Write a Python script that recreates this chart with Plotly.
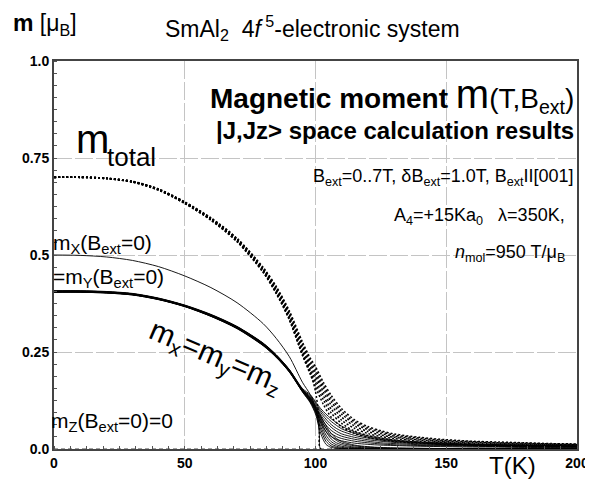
import plotly.graph_objects as go

# ---------------- data ----------------
T_dot = [0, 10, 20, 30, 40, 50, 60, 70, 80, 85, 90, 95, 98, 100, 103, 106, 110, 115,
         120, 125, 130, 140, 150, 160, 170, 180, 190, 200]
m_total_B = [
    [0.700, 0.700, 0.697, 0.688, 0.667, 0.633, 0.590, 0.535, 0.456, 0.402, 0.333, 0.242, 0.192, 0.160, 0.115, 0.082, 0.057, 0.040, 0.030, 0.024, 0.020, 0.015, 0.012, 0.010, 0.008, 0.007, 0.006, 0.006],
    [0.700, 0.700, 0.697, 0.688, 0.668, 0.634, 0.591, 0.536, 0.458, 0.404, 0.336, 0.247, 0.199, 0.170, 0.127, 0.093, 0.066, 0.046, 0.035, 0.028, 0.023, 0.017, 0.014, 0.011, 0.010, 0.009, 0.008, 0.007],
    [0.700, 0.700, 0.697, 0.689, 0.668, 0.634, 0.592, 0.538, 0.460, 0.407, 0.340, 0.252, 0.206, 0.179, 0.137, 0.103, 0.074, 0.053, 0.040, 0.032, 0.027, 0.020, 0.016, 0.013, 0.011, 0.010, 0.009, 0.008],
    [0.701, 0.701, 0.698, 0.689, 0.669, 0.635, 0.593, 0.539, 0.462, 0.410, 0.344, 0.258, 0.213, 0.188, 0.147, 0.113, 0.082, 0.059, 0.045, 0.036, 0.030, 0.023, 0.018, 0.015, 0.013, 0.012, 0.011, 0.010],
    [0.701, 0.701, 0.698, 0.689, 0.669, 0.636, 0.594, 0.540, 0.464, 0.413, 0.348, 0.264, 0.220, 0.196, 0.156, 0.122, 0.090, 0.065, 0.050, 0.040, 0.033, 0.025, 0.020, 0.017, 0.015, 0.013, 0.012, 0.011],
    [0.701, 0.701, 0.698, 0.690, 0.670, 0.636, 0.595, 0.542, 0.466, 0.416, 0.352, 0.270, 0.227, 0.204, 0.164, 0.130, 0.097, 0.070, 0.054, 0.044, 0.036, 0.028, 0.022, 0.019, 0.016, 0.015, 0.013, 0.012],
    [0.701, 0.701, 0.698, 0.690, 0.670, 0.637, 0.596, 0.543, 0.468, 0.419, 0.356, 0.276, 0.234, 0.212, 0.172, 0.138, 0.104, 0.075, 0.058, 0.047, 0.039, 0.030, 0.024, 0.020, 0.018, 0.016, 0.014, 0.013],
]

T_b0 = [0, 10, 20, 30, 40, 50, 60, 70, 80, 85, 90, 95, 98, 100, 101, 101.5, 102, 110, 150, 200]
m_total_b0 = [0.700, 0.700, 0.697, 0.688, 0.667, 0.633, 0.590, 0.534, 0.455, 0.400, 0.333, 0.242, 0.198, 0.148, 0.099, 0.050, 0.0, 0.0, 0.0, 0.0]
mx_b0 = [0.500, 0.499, 0.495, 0.486, 0.470, 0.446, 0.416, 0.377, 0.323, 0.285, 0.238, 0.172, 0.140, 0.105, 0.070, 0.035, 0.0, 0.0, 0.0, 0.0]
T_mz_b0 = [0, 200]
mz_b0 = [0.0, 0.0]

T_sol = [0, 10, 20, 30, 40, 50, 60, 70, 80, 85, 90, 95, 98, 100, 102, 104, 106, 108, 110,
         115, 120, 125, 130, 140, 150, 160, 170, 180, 190, 200]
mz_B = [
    [0.405, 0.405, 0.403, 0.398, 0.386, 0.368, 0.343, 0.311, 0.267, 0.237, 0.199, 0.149, 0.122, 0.098, 0.068, 0.045, 0.032, 0.025, 0.021, 0.015, 0.012, 0.010, 0.009, 0.007, 0.006, 0.005, 0.005, 0.004, 0.004, 0.004],
    [0.405, 0.405, 0.403, 0.398, 0.386, 0.368, 0.343, 0.312, 0.268, 0.238, 0.200, 0.150, 0.125, 0.103, 0.075, 0.054, 0.040, 0.032, 0.027, 0.020, 0.016, 0.013, 0.011, 0.009, 0.008, 0.007, 0.006, 0.005, 0.005, 0.005],
    [0.406, 0.406, 0.404, 0.399, 0.387, 0.369, 0.344, 0.313, 0.269, 0.239, 0.201, 0.151, 0.128, 0.107, 0.082, 0.062, 0.048, 0.039, 0.033, 0.025, 0.020, 0.016, 0.014, 0.011, 0.009, 0.008, 0.007, 0.006, 0.006, 0.006],
    [0.406, 0.406, 0.404, 0.399, 0.387, 0.369, 0.345, 0.314, 0.270, 0.240, 0.202, 0.152, 0.131, 0.111, 0.088, 0.070, 0.056, 0.046, 0.039, 0.030, 0.024, 0.020, 0.017, 0.013, 0.011, 0.009, 0.008, 0.007, 0.007, 0.006],
    [0.407, 0.407, 0.405, 0.400, 0.388, 0.370, 0.345, 0.314, 0.271, 0.241, 0.203, 0.153, 0.134, 0.115, 0.094, 0.077, 0.063, 0.053, 0.046, 0.035, 0.028, 0.023, 0.019, 0.015, 0.012, 0.010, 0.009, 0.008, 0.008, 0.007],
    [0.407, 0.407, 0.405, 0.400, 0.388, 0.370, 0.346, 0.315, 0.272, 0.242, 0.204, 0.154, 0.137, 0.119, 0.099, 0.084, 0.071, 0.061, 0.052, 0.040, 0.031, 0.025, 0.021, 0.016, 0.013, 0.011, 0.010, 0.009, 0.008, 0.008],
    [0.408, 0.408, 0.406, 0.401, 0.389, 0.371, 0.347, 0.316, 0.273, 0.243, 0.205, 0.156, 0.140, 0.122, 0.104, 0.090, 0.078, 0.068, 0.059, 0.044, 0.034, 0.028, 0.023, 0.018, 0.015, 0.012, 0.011, 0.010, 0.009, 0.008],
]
mxy_B = [
    [0.404, 0.404, 0.402, 0.397, 0.385, 0.367, 0.342, 0.310, 0.266, 0.236, 0.198, 0.147, 0.119, 0.090, 0.040, 0.012, 0.004, 0.002, 0.001, 0, 0, 0, 0, 0, 0, 0, 0, 0, 0, 0],
    [0.404, 0.404, 0.402, 0.397, 0.385, 0.367, 0.342, 0.311, 0.267, 0.237, 0.199, 0.148, 0.121, 0.094, 0.050, 0.020, 0.008, 0.004, 0.002, 0.001, 0, 0, 0, 0, 0, 0, 0, 0, 0, 0],
    [0.405, 0.405, 0.403, 0.398, 0.386, 0.368, 0.343, 0.312, 0.268, 0.238, 0.200, 0.149, 0.124, 0.098, 0.058, 0.028, 0.013, 0.007, 0.004, 0.002, 0.001, 0.001, 0, 0, 0, 0, 0, 0, 0, 0],
    [0.405, 0.405, 0.403, 0.398, 0.386, 0.368, 0.344, 0.313, 0.269, 0.239, 0.201, 0.150, 0.126, 0.101, 0.066, 0.036, 0.019, 0.011, 0.007, 0.003, 0.002, 0.001, 0.001, 0, 0, 0, 0, 0, 0, 0],
    [0.406, 0.406, 0.404, 0.399, 0.387, 0.369, 0.344, 0.313, 0.270, 0.240, 0.202, 0.151, 0.128, 0.104, 0.073, 0.045, 0.026, 0.016, 0.011, 0.005, 0.003, 0.002, 0.001, 0.001, 0, 0, 0, 0, 0, 0],
    [0.406, 0.406, 0.404, 0.399, 0.387, 0.369, 0.345, 0.314, 0.271, 0.241, 0.203, 0.152, 0.130, 0.107, 0.079, 0.053, 0.033, 0.022, 0.015, 0.008, 0.005, 0.003, 0.002, 0.001, 0.001, 0, 0, 0, 0, 0],
    [0.407, 0.407, 0.405, 0.400, 0.388, 0.370, 0.346, 0.315, 0.272, 0.242, 0.204, 0.154, 0.132, 0.110, 0.085, 0.060, 0.040, 0.027, 0.019, 0.010, 0.006, 0.004, 0.003, 0.002, 0.001, 0.001, 0, 0, 0, 0],
]

x_ticks = [0, 50, 100, 150, 200]
y_ticks = [0.0, 0.25, 0.5, 0.75, 1.0]
y_tick_labels = ["0.0", "0.25", "0.5", "0.75", "1.0"]

# ---------------- figure ----------------
FONT = "Liberation Sans, Arial, sans-serif"
fig = go.Figure()

solid = dict(color="black", width=0.9, shape="spline", smoothing=0.8)
dotted = dict(color="black", width=1.5, dash="2px,2px", shape="spline", smoothing=0.8)

fig.add_trace(go.Scatter(x=T_mz_b0, y=mz_b0, mode="lines",
                         line=dict(color="#444", width=1, dash="4px,3px")))
for ys in mxy_B:
    fig.add_trace(go.Scatter(x=T_sol, y=ys, mode="lines", line=solid))
for ys in mz_B:
    fig.add_trace(go.Scatter(x=T_sol, y=ys, mode="lines", line=solid))
fig.add_trace(go.Scatter(x=T_b0, y=mx_b0, mode="lines", line=solid))

fig.add_trace(go.Scatter(x=T_b0, y=m_total_b0, mode="lines", line=dotted))
for ys in m_total_B:
    fig.add_trace(go.Scatter(x=T_dot, y=ys, mode="lines", line=dotted))

axis_common = dict(
    showline=True, linecolor="#444", linewidth=2, mirror=True,
    showgrid=True, gridcolor="#c4c4c4", gridwidth=1, griddash="18px,3px",
    zeroline=False, ticks="", ticklabeloverflow="allow",
    tickfont=dict(family=FONT, size=14, color="black", weight="bold"),
)

fig.update_xaxes(range=[0, 200], tickvals=x_ticks,
                 minor=dict(dtick=6.25, ticks="inside", ticklen=3, tickcolor="#555", showgrid=False),
                 **axis_common)
fig.update_yaxes(range=[0, 1.0], tickvals=y_ticks, ticktext=y_tick_labels,
                 minor=dict(dtick=0.03125, ticks="inside", ticklen=3, tickcolor="#555", showgrid=False),
                 **axis_common)

ann = []
def A(text, x, y, size, xanchor="left", yanchor="middle", xref="x", yref="y", angle=0, bold=False, xshift=0):
    ann.append(dict(text=text, x=x, y=y, xref=xref, yref=yref, xanchor=xanchor, yanchor=yanchor,
                    showarrow=False, textangle=angle, xshift=xshift,
                    font=dict(family=FONT, size=size, color="black", weight="bold" if bold else "normal")))

# outside texts
A("<b>m</b> [μ<sub>B</sub>]", -0.082, 1.095, 23, xref="paper", yref="paper")
A("SmAl<sub>2</sub>  4<i>f</i><sup> 5</sup>-electronic system", 0.495, 1.085, 23, xanchor="center", xref="paper", yref="paper")
A("T(K)", 0.876, -0.083, 24, xanchor="center", yanchor="bottom", xref="paper", yref="paper")

# inside texts
A("<b>Magnetic moment </b><span style='font-size:40px'>m</span>(T,B<sub>ext</sub>)", 199.5, 0.912, 28, xanchor="right")
A("|J,Jz> space calculation results", 199.5, 0.822, 24, xanchor="right", bold=True)
A("B<sub>ext</sub>=0..7T, δB<sub>ext</sub>=1.0T, B<sub>ext</sub>II[001]", 199.5, 0.70, 18, xanchor="right")
A("A<sub>4</sub>=+15Ka<sub>0</sub>   λ=350K,", 196, 0.60, 18, xanchor="right")
A("<i>n</i><sub>mol</sub>=950 T/μ<sub>B</sub>", 196, 0.505, 18, xanchor="right")

A("m", 7.5, 0.80, 40)
A("total", 19.5, 0.753, 26)
A("m<sub>X</sub>(B<sub>ext</sub>=0)", 0, 0.528, 21, xshift=-3)
A("=m<sub>Y</sub>(B<sub>ext</sub>=0)", 0, 0.44, 21, xshift=-3)
A("m<sub>Z</sub>(B<sub>ext</sub>=0)=0", 0, 0.069, 21, xshift=-5)
A("m<sub>x</sub>=m<sub>y</sub>=m<sub>z</sub>", 62, 0.237, 30, xanchor="center", angle=23)

fig.update_layout(
    width=593, height=479,
    margin=dict(l=46, r=16, t=53, b=38),
    plot_bgcolor="white", paper_bgcolor="white",
    showlegend=False,
    annotations=ann,
)

fig.write_html("out.html")
